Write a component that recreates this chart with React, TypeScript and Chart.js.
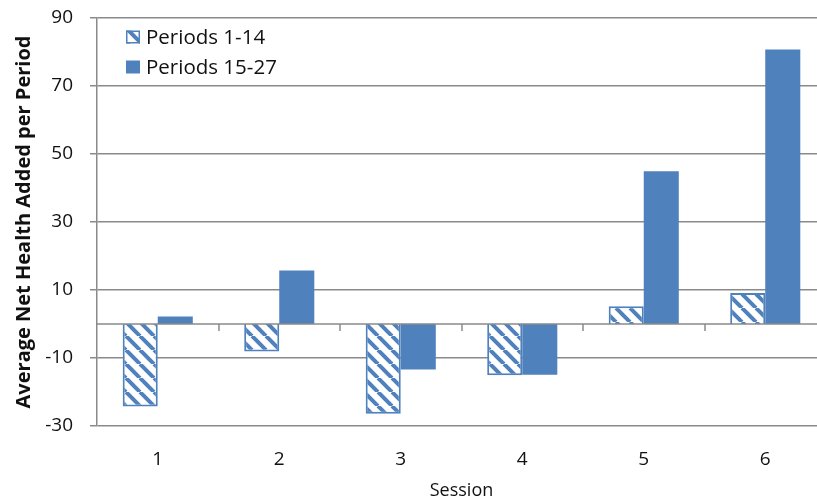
import React, { useEffect, useRef } from "react";
import { Chart, registerables } from "chart.js";
Chart.register(...registerables);

const sessions = ["1", "2", "3", "4", "5", "6"];
const periods1to14 = [-24.3, -8.1, -26.4, -15.1, 5.2, 9.1];
const periods15to27 = [2.2, 15.7, -13.4, -14.9, 44.9, 80.7];
const seriesLabels = ["Periods 1-14", "Periods 15-27"];
const yMin = -30;
const yMax = 90;
const yStep = 20;
const xTitle = "Session";
const yTitle = "Average Net Health Added per Period";

const BLUE = "#4F81BD";
const GRID = "#8a8a8a";
const FONT = "'Open Sans', sans-serif";

function makeHatch(): CanvasPattern | string {
  const s = 14;
  const c = document.createElement("canvas");
  c.width = s;
  c.height = s;
  const g = c.getContext("2d");
  if (!g) return "#fff";
  g.fillStyle = "#ffffff";
  g.fillRect(0, 0, s, s);
  g.strokeStyle = BLUE;
  g.lineWidth = 4;
  for (const k of [-s, 0, s]) {
    g.beginPath();
    g.moveTo(k, 0);
    g.lineTo(k + s, s);
    g.stroke();
  }
  const p = g.createPattern(c, "repeat");
  return p || "#fff";
}

export default function App() {
  const ref = useRef<HTMLCanvasElement | null>(null);
  useEffect(() => {
    if (!ref.current) return;
    const hatch = makeHatch();

    const zeroAxis = {
      id: "zeroAxis",
      afterDatasetsDraw(chart: any) {
        const { ctx, chartArea, scales } = chart;
        const y0 = scales.y.getPixelForValue(0);
        ctx.save();
        ctx.strokeStyle = GRID;
        ctx.lineWidth = 1.5;
        ctx.beginPath();
        ctx.moveTo(chartArea.left, y0);
        ctx.lineTo(chartArea.right, y0);
        ctx.stroke();
        const n = chart.data.labels.length;
        for (let i = 1; i <= n; i++) {
          const x = Math.round((scales.x.getPixelForValue(i - 1) + scales.x.getPixelForValue(i)) / 2);
          ctx.beginPath();
          ctx.moveTo(x, y0);
          ctx.lineTo(x, y0 + 7);
          ctx.stroke();
        }
        ctx.restore();
      },
    };

    const insideLegend = {
      id: "insideLegend",
      afterDraw(chart: any) {
        const { ctx } = chart;
        ctx.save();
        ctx.font = `20.5px ${FONT}`;
        ctx.textBaseline = "middle";
        chart.data.datasets.forEach((ds: any, i: number) => {
          const cy = 37 + i * 30;
          const bx = 126;
          const by = cy - 6.5;
          ctx.fillStyle = ds.backgroundColor;
          ctx.fillRect(bx, by, 14, 13);
          if (i === 0) {
            ctx.strokeStyle = BLUE;
            ctx.lineWidth = 1.5;
            ctx.strokeRect(bx + 0.75, by + 0.75, 12.5, 11.5);
          }
          ctx.fillStyle = "#111";
          ctx.fillText(ds.label, 146, cy + 1);
        });
        ctx.restore();
      },
    };

    const chart = new Chart(ref.current, {
      type: "bar",
      data: {
        labels: sessions,
        datasets: [
          {
            label: seriesLabels[0],
            data: periods1to14,
            backgroundColor: hatch as any,
            borderColor: BLUE,
            borderWidth: 2,
            categoryPercentage: 0.577,
            barPercentage: 1,
          },
          {
            label: seriesLabels[1],
            data: periods15to27,
            backgroundColor: BLUE,
            borderWidth: 0,
            categoryPercentage: 0.577,
            barPercentage: 1,
          },
        ],
      },
      options: {
        responsive: false,
        animation: false,
        layout: { padding: { top: 18, right: 2, bottom: 0, left: 0 } },
        plugins: {
          legend: { display: false },
          tooltip: { enabled: false },
        },
        scales: {
          x: {
            grid: { display: false, drawTicks: false },
            border: { display: false },
            ticks: { color: "#111", font: { family: FONT, size: 19 }, padding: 22 },
            title: {
              display: true,
              text: xTitle,
              color: "#111",
              font: { family: FONT, size: 18 },
              padding: { top: 0, bottom: 0 },
            },
            afterFit(scale: any) {
              scale.height = 76;
              scale.paddingLeft = 0;
              scale.paddingRight = 0;
            },
          },
          y: {
            min: yMin,
            max: yMax,
            ticks: {
              stepSize: yStep,
              color: "#111",
              font: { family: FONT, size: 19 },
              padding: 17,
            },
            grid: { color: GRID, lineWidth: 1.5, tickLength: 7 },
            border: { color: GRID, width: 1.5 },
            title: {
              display: true,
              text: yTitle,
              color: "#111",
              font: { family: FONT, size: 20, weight: "bold" },
              padding: { top: 12, bottom: 0 },
            },
            afterFit(scale: any) {
              scale.width = 97;
              scale.paddingTop = 0;
              scale.paddingBottom = 0;
            },
          },
        },
      },
      plugins: [zeroAxis, insideLegend],
    });
    return () => chart.destroy();
  }, []);

  return (
    <div style={{ position: "fixed", left: 0, top: 0, width: 817, height: 502, overflow: "hidden", background: "#fff" }}>
      <canvas ref={ref} width={828} height={502} style={{ display: "block" }} />
    </div>
  );
}
